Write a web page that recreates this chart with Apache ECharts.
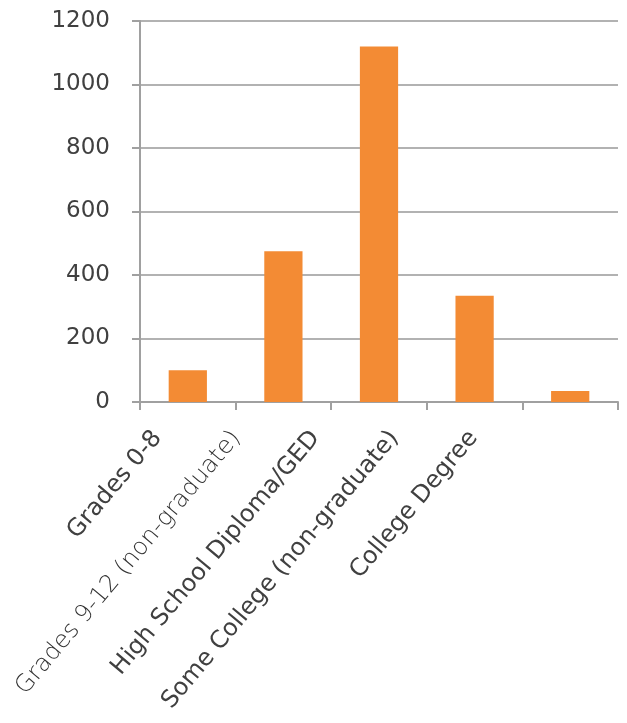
<!DOCTYPE html>
<html>
<head>
<meta charset="utf-8">
<script src="https://cdn.jsdelivr.net/npm/echarts@6/dist/echarts.min.js"></script>
<style>html,body{margin:0;padding:0;background:#fff}#c{width:627px;height:723px}</style>
</head>
<body>
<div id="c"></div>
<script>
const categories = ['Grades 0-8', 'Grades 9-12 (non-graduate)', 'High School Diploma/GED', 'Some College (non-graduate)', 'College Degree'];
const values = [100, 475, 1120, 335, 35];
const yTicks = { min: 0, max: 1200, interval: 200 };

const chart = echarts.init(document.getElementById('c'), null, { renderer: 'canvas' });
const textColor = '#404040';
const font = 'DejaVu Sans';
chart.setOption({
  animation: false,
  grid: [
    { left: 140, right: 9, top: 21, bottom: 321, containLabel: false },
    { left: 118, width: 395, top: 21, bottom: 321, containLabel: false }
  ],
  xAxis: [
    {
      type: 'category', gridIndex: 0, data: categories,
      axisLine: { lineStyle: { color: '#a0a0a0', width: 2 } },
      axisTick: { show: true, interval: 0, length: 8, lineStyle: { color: '#a0a0a0', width: 2 } },
      axisLabel: { show: false }
    },
    {
      type: 'category', gridIndex: 1,
      data: categories.map((c, i) => i === 1 ? { value: c, textStyle: { fontFamily: 'DejaVu Sans ExtraLight, DejaVu Sans', fontWeight: 200, color: '#333' } } : c),
      axisLine: { show: false }, axisTick: { show: false }, splitLine: { show: false },
      axisLabel: { rotate: 50, margin: 32, interval: 0, fontSize: 24, color: textColor, fontFamily: font }
    }
  ],
  yAxis: [
    {
      type: 'value', gridIndex: 0, min: yTicks.min, max: yTicks.max, interval: yTicks.interval,
      axisLine: { show: true, lineStyle: { color: '#a0a0a0', width: 2 } },
      axisTick: { show: true, length: 8, lineStyle: { color: '#a0a0a0', width: 2 } },
      splitLine: { lineStyle: { color: '#999999', width: 1.5 } },
      axisLabel: { margin: 30, fontSize: 23, color: textColor, fontFamily: font, formatter: v => String(v) }
    },
    { type: 'value', gridIndex: 1, show: false, min: 0, max: 1200 }
  ],
  series: [{
    type: 'bar', xAxisIndex: 0, yAxisIndex: 0, data: values,
    barCategoryGap: '60%',
    itemStyle: { color: '#f38b34' }
  }]
});
</script>
</body>
</html>
